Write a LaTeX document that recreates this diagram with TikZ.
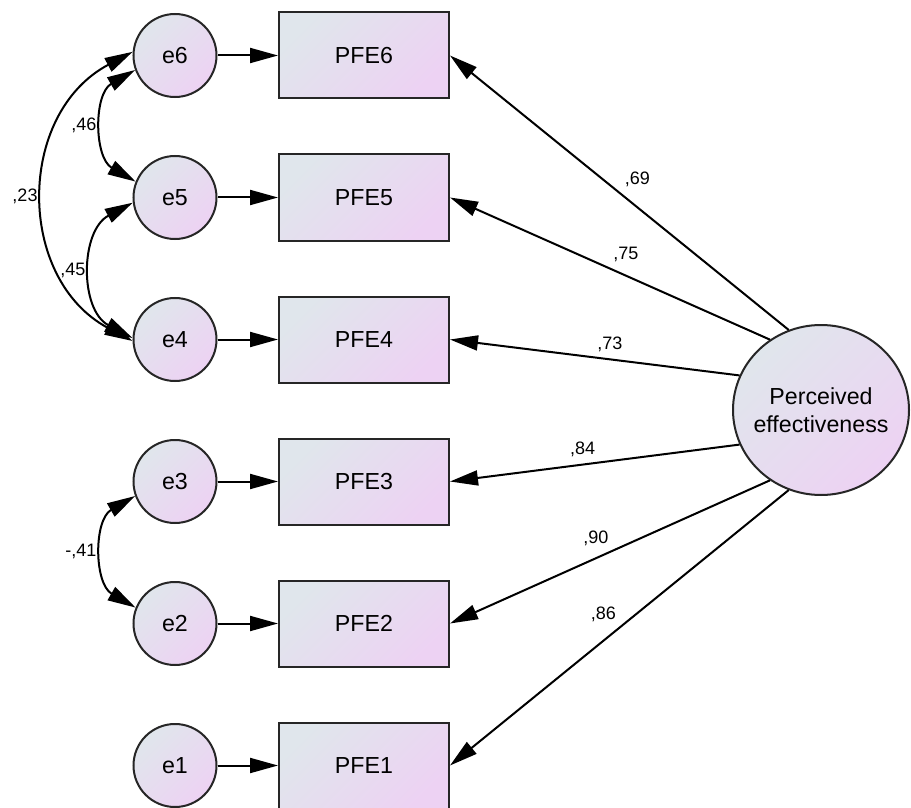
\documentclass[tikz,border=0pt]{standalone}
\usepackage{fontspec}
\setmainfont{Liberation Sans}
\usetikzlibrary{arrows.meta,shapes.geometric}
\definecolor{fillnw}{HTML}{E0E6EC}
\definecolor{fillse}{HTML}{EDD2F3}

\begin{document}
\begin{tikzpicture}[x=0.5pt,y=0.5pt,
    var/.style={draw=black!85,line width=1pt,top color=fillnw,bottom color=fillse,shading angle=45,font=\fontsize{11.6}{14}\selectfont},
    err/.style={var,shape=circle,minimum size=41.5pt,inner sep=0pt},
    obs/.style={var,shape=rectangle,minimum width=85pt,minimum height=43pt,inner sep=0pt},
    lat/.style={var,shape=ellipse,minimum width=88pt,minimum height=85pt,inner xsep=-3pt,inner ysep=0pt,align=center},
    reg/.style={line width=1pt,-{Triangle[length=14pt,width=7.5pt]}},
    cov/.style={line width=1pt,{Triangle[length=14pt,width=7.5pt]}-{Triangle[length=14pt,width=7.5pt]}},
    coef/.style={font=\fontsize{9}{11}\selectfont}]
    \useasboundingbox (0,0) rectangle (911,-808);

    % error terms
    \node[err] (e6) at (175,-55.5) {e6};
    \node[err] (e5) at (175,-197.5) {e5};
    \node[err] (e4) at (175,-339.5) {e4};
    \node[err] (e3) at (175,-481.5) {e3};
    \node[err] (e2) at (175,-623.5) {e2};
    \node[err] (e1) at (175,-765.5) {e1};

    % observed items
    \node[obs] (PFE6) at (364,-55.5) {PFE6};
    \node[obs] (PFE5) at (364,-197.5) {PFE5};
    \node[obs] (PFE4) at (364,-339.5) {PFE4};
    \node[obs] (PFE3) at (364,-481.5) {PFE3};
    \node[obs] (PFE2) at (364,-623.5) {PFE2};
    \node[obs] (PFE1) at (364,-765.5) {PFE1};

    % latent factor
    \node[lat] (PE) at (821,-410) {Perceived\\effectiveness};

    \draw[reg] (e6) -- (PFE6);
    \draw[reg] (e5) -- (PFE5);
    \draw[reg] (e4) -- (PFE4);
    \draw[reg] (e3) -- (PFE3);
    \draw[reg] (e2) -- (PFE2);
    \draw[reg] (e1) -- (PFE1);

    % loadings
    \draw[reg] (PE.112) -- node[coef,pos=0.447,above=6.6pt]{,69} (PFE6.east);
    \draw[reg] (PE.126) -- node[coef,pos=0.45,above=2.9pt]{,75} (PFE5.east);
    \draw[reg] (PE.157) -- node[coef,pos=0.448,above=0pt]{,73} (PFE4.east);
    \draw[reg] (PE.203) -- node[coef,pos=0.542,above=0pt]{,84} (PFE3.east);
    \draw[reg] (PE.234) -- node[coef,pos=0.544,above=2.2pt]{,90} (PFE2.east);
    \draw[reg] (PE.248) -- node[coef,pos=0.547,above=5.4pt]{,86} (PFE1.east);

    % error covariances
    \draw[cov] (e6.200) .. controls +(210:48) and +(150:48) .. node[coef,left]{,46} (e5.158);
    \draw[cov] (e6.175) .. controls +(208:132) and +(152:132) .. node[coef,left]{,23} (e4.182);
    \draw[cov] (e5.187) .. controls +(208:60) and +(152:60) .. node[coef,left]{,45} (e4.178);
    \draw[cov] (e3.200) .. controls +(210:48) and +(150:48) .. node[coef,left]{-,41} (e2.158);
\end{tikzpicture}
\end{document}
